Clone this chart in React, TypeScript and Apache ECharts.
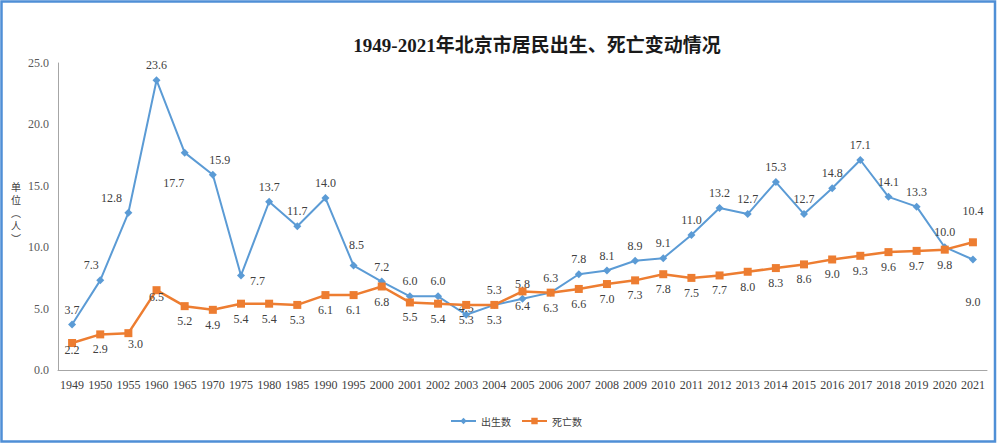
import React, { useEffect, useRef } from "react";
import * as echarts from "echarts";

const years = [
  "1949", "1950", "1955", "1960", "1965", "1970", "1975", "1980", "1985", "1990", "1995",
  "2000", "2001", "2002", "2003", "2004", "2005", "2006", "2007", "2008", "2009", "2010",
  "2011", "2012", "2013", "2014", "2015", "2016", "2017", "2018", "2019", "2020", "2021",
];
const births = [
  3.7, 7.3, 12.8, 23.6, 17.7, 15.9, 7.7, 13.7, 11.7, 14.0, 8.5,
  7.2, 6.0, 6.0, 4.5, 5.3, 5.8, 6.3, 7.8, 8.1, 8.9, 9.1,
  11.0, 13.2, 12.7, 15.3, 12.7, 14.8, 17.1, 14.1, 13.3, 10.0, 9.0,
];
const deaths = [
  2.2, 2.9, 3.0, 6.5, 5.2, 4.9, 5.4, 5.4, 5.3, 6.1, 6.1,
  6.8, 5.5, 5.4, 5.3, 5.3, 6.4, 6.3, 6.6, 7.0, 7.3, 7.8,
  7.5, 7.7, 8.0, 8.3, 8.6, 9.0, 9.3, 9.6, 9.7, 9.8, 10.4,
];
const yTicks = { min: 0, max: 25, interval: 5 };
const titleText = "1949-2021年北京市居民出生、死亡变动情况";
const seriesNames = ["出生数", "死亡数"];
const yNameChars = ["单", "位", "︵", "人", "︶"];

const birthLabelTweaks: Record<string, any> = {
  "1950": { offset: [-9, 0] },
  "1955": { offset: [-17, 0] },
  "1965": { position: "bottom", distance: 20, offset: [-11, 0] },
  "1970": { offset: [7, 0] },
  "1975": { position: "right", offset: [0, 6] },
  "1995": { offset: [3, -6] },
  "2003": { offset: [0, 8] },
  "2021": { position: "bottom", distance: 33 },
};
const deathLabelTweaks: Record<string, any> = {
  "1949": { offset: [0, -8] },
  "1955": { offset: [7, -4] },
  "1960": { offset: [0, -8] },
  "2021": { position: "top", distance: 21 },
};

const SERIF = '"Liberation Serif", "Times New Roman", "DejaVu Serif", "Noto Sans CJK SC", serif';
const SANS = '"Noto Sans CJK SC", "Noto Sans", sans-serif';

export default function App() {
  const ref = useRef<HTMLDivElement>(null);
  useEffect(() => {
    if (!ref.current) return;
    const chart = echarts.init(ref.current, null, { renderer: "svg" });
    const mk = (vals: number[], tweaks: Record<string, any>) =>
      vals.map((v, i) => {
        const t = tweaks[years[i]];
        return t ? { value: v, label: t } : v;
      });
    chart.setOption({
      animation: false,
      backgroundColor: "#ffffff",
      grid: { left: 58, right: 13, top: 63, bottom: 74 },
      legend: {
        left: 445,
        top: 411,
        itemWidth: 25,
        itemHeight: 8,
        itemGap: 10,
        textStyle: { fontFamily: SANS, fontSize: 10, color: "#404040" },
        data: seriesNames,
      },
      xAxis: {
        type: "category",
        data: years,
        boundaryGap: true,
        axisLine: { lineStyle: { color: "#a6a6a6", width: 1 } },
        axisTick: { show: false },
        axisLabel: { interval: 0, margin: 9, fontFamily: SERIF, fontSize: 12, color: "#404040" },
      },
      yAxis: {
        type: "value",
        min: yTicks.min,
        max: yTicks.max,
        interval: yTicks.interval,
        splitLine: { show: false },
        axisLine: { show: true, lineStyle: { color: "#a6a6a6", width: 1 } },
        axisTick: { show: false },
        axisLabel: {
          margin: 9,
          fontFamily: SERIF,
          fontSize: 12,
          color: "#595959",
          formatter: (v: number) => v.toFixed(1),
        },
      },
      graphic: [
        {
          type: "rect",
          shape: { x: 1.5, y: 1.5, width: 993.5, height: 440 },
          style: { fill: "none", stroke: "#4f8fd6", lineWidth: 2.5 },
          silent: true,
        },
        {
          type: "text",
          x: 537,
          y: 45,
          style: {
            text: titleText,
            fontFamily: SERIF,
            fontSize: 19,
            fontWeight: "bold",
            fill: "#1a1a1a",
            align: "center",
            verticalAlign: "middle",
          },
        },
        ...yNameChars.map((c, i) => ({
          type: "text",
          x: 16,
          y: 186 + i * 13,
          style: {
            text: c,
            fontFamily: SANS,
            fontSize: 10,
            fill: "#404040",
            align: "center",
            verticalAlign: "middle",
          },
        })),
      ],
      series: [
        {
          name: seriesNames[0],
          type: "line",
          data: mk(births, birthLabelTweaks),
          symbol: "diamond",
          symbolSize: 8,
          lineStyle: { color: "#5b9bd5", width: 2 },
          itemStyle: { color: "#5b9bd5" },
          label: {
            show: true,
            position: "top",
            fontFamily: SERIF,
            fontSize: 12,
            color: "#404040",
            formatter: (p: any) => Number(p.value).toFixed(1),
          },
          z: 2,
        },
        {
          name: seriesNames[1],
          type: "line",
          data: mk(deaths, deathLabelTweaks),
          symbol: "rect",
          symbolSize: 8,
          lineStyle: { color: "#ed7d31", width: 2.5 },
          itemStyle: { color: "#ed7d31" },
          label: {
            show: true,
            position: "bottom",
            fontFamily: SERIF,
            fontSize: 12,
            color: "#404040",
            formatter: (p: any) => Number(p.value).toFixed(1),
          },
          z: 3,
        },
      ],
    });
    return () => chart.dispose();
  }, []);
  return (
    <div
      ref={ref}
      style={{ position: "absolute", left: 0, top: 0, width: 1000, height: 444, background: "#fff" }}
    />
  );
}
